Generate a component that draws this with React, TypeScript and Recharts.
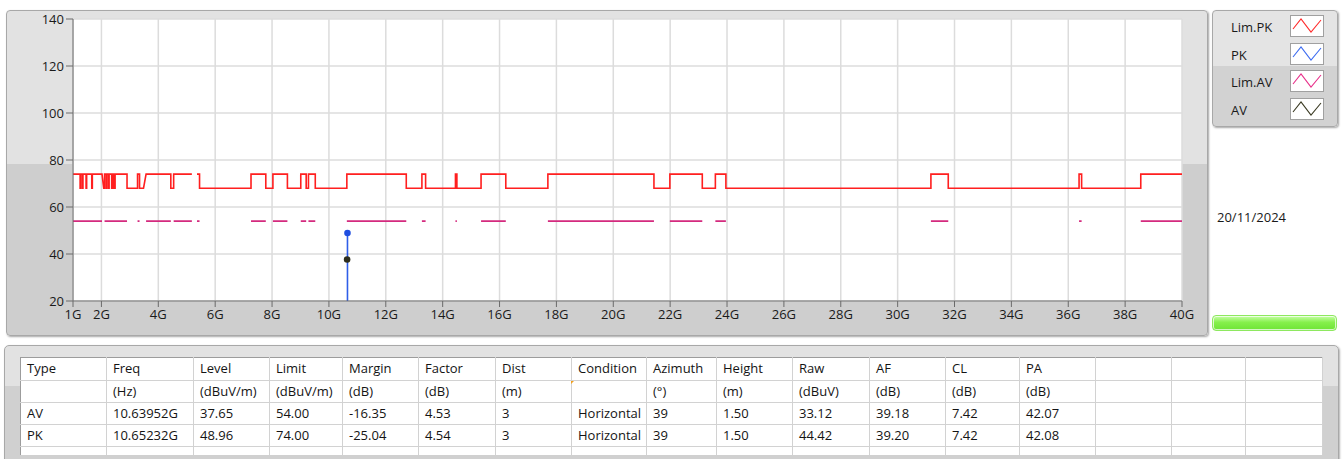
import React from 'react';
import { LineChart, Line, XAxis, YAxis, CartesianGrid } from 'recharts';

const xTicks = [1, 2, 4, 6, 8, 10, 12, 14, 16, 18, 20, 22, 24, 26, 28, 30, 32, 34, 36, 38, 40];
const yTicks = [20, 40, 60, 80, 100, 120, 140];

const limPkHigh = 74;
const limPkLow = 68;
const limAvLevel = 54;

// bands (GHz) where the limit is 74/54: [start, end] or [start, end, riseFrom, fallTo] for sloped edges
const restrictedBands: number[][] = [
  [1.0, 1.25], [1.27, 1.33], [1.35, 1.46], [1.48, 1.66], [1.68, 2.02, 1.68, 2.08],
  [2.11, 2.17], [2.19, 2.25], [2.27, 2.36], [2.4, 2.41], [2.44, 2.45],
  [2.48, 2.9], [3.27, 3.34], [3.57, 4.44, 3.48], [4.54, 5.18], [5.36, 5.45],
  [7.26, 7.78], [8.03, 8.54], [9.01, 9.2], [9.28, 9.52], [10.63, 12.72],
  [13.27, 13.4], [14.45, 14.5], [15.35, 16.22], [17.7, 21.43], [21.99, 23.13],
  [23.59, 23.96], [31.17, 31.78], [36.38, 36.47], [38.55, 40.0],
];
// stretches where the Lim.PK trace is not drawn
const limPkGaps: number[][] = [[5.18, 5.36]];
// Lim.AV is not broken by notches narrower than this (GHz)
const limAvMinGap = 0.05;

const pkFreq = 10.65232;
const pkLevel = 48.96;
const avFreq = 10.63952;
const avLevel = 37.65;

const legendItems = ['Lim.PK', 'PK', 'Lim.AV', 'AV'];
const legendColors = ['#ff2a2a', '#3d6cf0', '#e8308a', '#3a3a22'];
const testDate = '20/11/2024';

const tableHeaders = ['Type', 'Freq', 'Level', 'Limit', 'Margin', 'Factor', 'Dist', 'Condition', 'Azimuth', 'Height', 'Raw', 'AF', 'CL', 'PA', '', '', ''];
const tableUnits = ['', '(Hz)', '(dBuV/m)', '(dBuV/m)', '(dB)', '(dB)', '(m)', '', '(°)', '(m)', '(dBuV)', '(dB)', '(dB)', '(dB)', '', '', ''];
const avRow = ['AV', '10.63952G', '37.65', '54.00', '-16.35', '4.53', '3', 'Horizontal', '39', '1.50', '33.12', '39.18', '7.42', '42.07', '', '', ''];
const pkRow = ['PK', '10.65232G', '48.96', '74.00', '-25.04', '4.54', '3', 'Horizontal', '39', '1.50', '44.42', '39.20', '7.42', '42.08', '', '', ''];

const colEdges = [20, 106, 193, 269, 342, 418, 495, 571, 646, 716, 792, 869, 945, 1019, 1095, 1171, 1245, 1322];
const rowEdges = [357, 380, 402, 424, 446];

const FONT = '"Segoe UI", "Open Sans", sans-serif';

type Pt = { f: number; v: number | null };

const buildLimPk = (): Pt[] => {
  const pts: Pt[] = [];
  restrictedBands.forEach(([s, e, riseFrom, fallTo]) => {
    const gapBefore = limPkGaps.some((g) => g[1] === s);
    if (s > 1 && !gapBefore) pts.push({ f: riseFrom ?? s, v: limPkLow });
    pts.push({ f: s, v: limPkHigh });
    pts.push({ f: e, v: limPkHigh });
    const gapAfter = limPkGaps.some((g) => g[0] === e);
    if (gapAfter) pts.push({ f: e, v: null });
    else if (e < 40) pts.push({ f: fallTo ?? e, v: limPkLow });
  });
  return pts;
};

const buildLimAv = (): Pt[] => {
  const pts: Pt[] = [];
  restrictedBands.forEach(([s, e], i) => {
    const prev = restrictedBands[i - 1];
    const joined = prev && s - prev[1] < limAvMinGap;
    if (!joined) pts.push({ f: s, v: limAvLevel });
    const next = restrictedBands[i + 1];
    if (!next || next[0] - e >= limAvMinGap) {
      pts.push({ f: e, v: limAvLevel });
      pts.push({ f: e, v: null });
    }
  });
  return pts;
};

const limPkData = buildLimPk();
const limAvData = buildLimAv();
const pkData = [{ f: pkFreq, v: 20 }, { f: pkFreq, v: pkLevel }];
const avData = [{ f: avFreq, v: avLevel }];

const Swatch = ({ color }: { color: string }) => (
  <svg width={34} height={22} style={{ display: 'block' }}>
    <rect x={0.5} y={0.5} width={33} height={21} fill="#fff" stroke="#a0a0a0" />
    <polyline points="3,14 11,4 21,17 31,5" fill="none" stroke={color} strokeWidth={1.1} />
  </svg>
);

const PkDot = (props: any) => {
  const { cx, cy, index } = props;
  if (index !== 1) return <g key={`pk-${index}`} />;
  return <circle key={`pk-${index}`} cx={cx} cy={cy} r={3.3} fill="#1f4ee0" />;
};

const AvDot = (props: any) => {
  const { cx, cy, index } = props;
  return <circle key={`av-${index}`} cx={cx} cy={cy} r={3.3} fill="#2e2e1c" />;
};

const DataTable = () => {
  const rows = [tableHeaders, tableUnits, avRow, pkRow];
  const gridLeft = colEdges[0];
  const gridTop = rowEdges[0];
  const gridRight = colEdges[colEdges.length - 1];
  const gridBottom = 455;
  return (
    <>
      <div
        style={{
          position: 'absolute', left: 4, top: 345, width: 1333, height: 120,
          border: '1px solid #a8a8a8', borderRadius: 5,
          background: 'linear-gradient(to bottom, #e2e2e2 0px, #e2e2e2 40px, #d0d0d0 40px)',
          boxShadow: '1px 1px 2px rgba(0,0,0,0.3)',
        }}
      />
      <div
        style={{
          position: 'absolute', left: gridLeft, top: gridTop, width: gridRight - gridLeft, height: gridBottom - gridTop,
          background: '#fff', borderLeft: '1px solid #9c9c9c', borderTop: '1px solid #9c9c9c', boxSizing: 'border-box',
        }}
      />
      {colEdges.slice(1).map((x) => (
        <div key={`c${x}`} style={{ position: 'absolute', left: x, top: gridTop, width: 1, height: gridBottom - gridTop, background: '#d2d2d2' }} />
      ))}
      {rowEdges.slice(1).map((y) => (
        <div key={`r${y}`} style={{ position: 'absolute', left: gridLeft, top: y, width: gridRight - gridLeft, height: 1, background: '#d2d2d2' }} />
      ))}
      <div style={{ position: 'absolute', left: 571, top: 381, width: 0, height: 0, borderTop: '3px solid #f0a020', borderRight: '3px solid transparent' }} />
      {rows.map((row, ri) =>
        row.map((cell, ci) =>
          cell ? (
            <div
              key={`t${ri}-${ci}`}
              style={{
                position: 'absolute', left: colEdges[ci] + 7, top: rowEdges[ri], height: rowEdges[ri + 1] - rowEdges[ri] || 22,
                lineHeight: `${(rowEdges[ri + 1] - rowEdges[ri]) || 22}px`, fontSize: 13, color: '#141414', whiteSpace: 'nowrap',
              }}
            >
              {cell}
            </div>
          ) : null,
        ),
      )}
    </>
  );
};

export default function App() {
  return (
    <div style={{ position: 'absolute', left: 0, top: 0, width: 1343, height: 459, background: '#fff', overflow: 'hidden', fontFamily: FONT }}>
      <div
        style={{
          position: 'absolute', left: 6, top: 10, width: 1200, height: 324,
          border: '1px solid #a8a8a8', borderRadius: 4,
          background: 'linear-gradient(to bottom, #e2e2e2 0px, #e2e2e2 153px, #cecece 153px)',
          boxShadow: '1px 1px 2px rgba(0,0,0,0.35)',
        }}
      />
      <div style={{ position: 'absolute', left: 0, top: 0 }}>
        <LineChart width={1210} height={340} margin={{ top: 19, right: 28, bottom: 9, left: 33 }} style={{ fontFamily: FONT }}>
          <CartesianGrid fill="#ffffff" stroke="#dcdcdc" strokeWidth={1.5} />
          <XAxis
            type="number"
            dataKey="f"
            domain={[1, 40]}
            ticks={xTicks}
            interval={0}
            allowDataOverflow
            tickFormatter={(v) => `${v}G`}
            height={30}
            tickSize={6}
            tickMargin={3}
            stroke="#6a6a6a"
            tick={{ fontSize: 13, fill: '#1a1a1a' }}
          />
          <XAxis xAxisId="top" orientation="top" type="number" domain={[1, 40]} height={0} tick={false} tickLine={false} stroke="#8c8c8c" />
          <YAxis
            type="number"
            domain={[20, 140]}
            ticks={yTicks}
            interval={0}
            allowDataOverflow
            width={40}
            tickSize={7}
            tickMargin={2}
            stroke="#6a6a6a"
            tick={{ fontSize: 13, fill: '#1a1a1a' }}
          />
          <YAxis yAxisId="right" orientation="right" type="number" domain={[20, 140]} width={0} tick={false} tickLine={false} stroke="#c4c4c4" />
          <Line data={limAvData} dataKey="v" type="linear" stroke="#d42a7e" strokeWidth={1.6} dot={false} isAnimationActive={false} />
          <Line data={limPkData} dataKey="v" type="linear" stroke="#ff1f1f" strokeWidth={1.6} dot={false} isAnimationActive={false} />
          <Line data={pkData} dataKey="v" type="linear" stroke="#2f5ee8" strokeWidth={1.6} dot={PkDot} isAnimationActive={false} />
          <Line data={avData} dataKey="v" type="linear" stroke="#3a3a22" strokeWidth={1.4} dot={AvDot} isAnimationActive={false} />
        </LineChart>
      </div>

      <div
        style={{
          position: 'absolute', left: 1212, top: 10, width: 124, height: 115,
          border: '1px solid #a8a8a8', borderRadius: 4,
          background: 'linear-gradient(to bottom, #e4e4e4 0px, #e4e4e4 55px, #d2d2d2 55px)',
          boxShadow: '1px 1px 2px rgba(0,0,0,0.35)',
        }}
      />
      {legendItems.map((name, i) => (
        <React.Fragment key={name}>
          <div style={{ position: 'absolute', left: 1231, top: 16 + i * 27.7, height: 22, lineHeight: '22px', fontSize: 13, color: '#1a1a1a' }}>{name}</div>
          <div style={{ position: 'absolute', left: 1290, top: 15 + i * 27.7 }}>
            <Swatch color={legendColors[i]} />
          </div>
        </React.Fragment>
      ))}

      <div style={{ position: 'absolute', left: 1217, top: 207, fontSize: 13, color: '#1a1a1a', lineHeight: '20px' }}>{testDate}</div>

      <div
        style={{
          position: 'absolute', left: 1212, top: 315, width: 125, height: 16, boxSizing: 'border-box',
          borderRadius: 4, border: '1px solid #8ee860',
          background: 'linear-gradient(to bottom, #c8ffa8 0%, #86f04c 45%, #6ee436 100%)',
          boxShadow: 'inset 0 0 0 1px rgba(255,255,255,0.7)',
        }}
      />

      <DataTable />
    </div>
  );
}
